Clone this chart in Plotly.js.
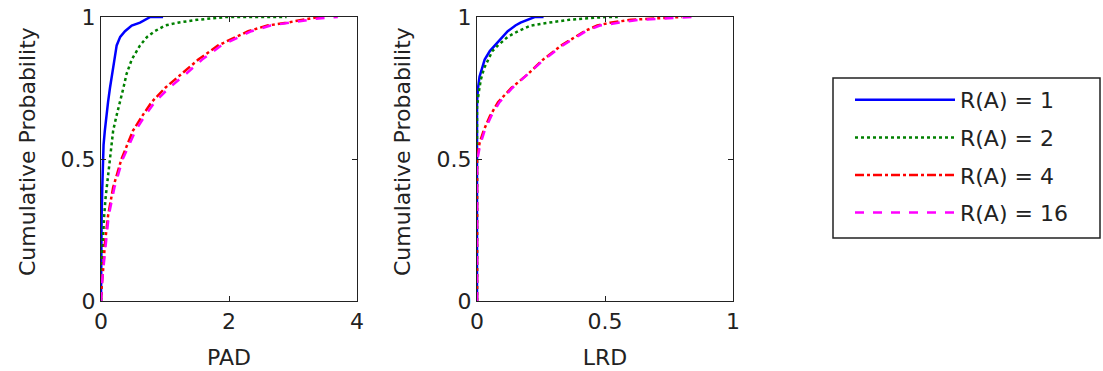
<!DOCTYPE html>
<html>
<head>
<meta charset="utf-8">
<script src="https://cdn.plot.ly/plotly-3.0.1.min.js"></script>
<style>html,body{margin:0;padding:0;background:#fff;}#chart{width:1103px;height:371px;}</style>
</head>
<body>
<div id="chart"></div>
<script>
// Legend labels
const seriesNames = ["R(A) = 1", "R(A) = 2", "R(A) = 4", "R(A) = 16"];
const yTitle = "Cumulative Probability";

// PAD (left panel) empirical CDF points
const padX1 = [0, 0, 0.005, 0.01, 0.02, 0.03, 0.04, 0.06, 0.08, 0.11, 0.14, 0.17, 0.21, 0.245, 0.30, 0.375, 0.48, 0.61, 0.77, 0.97];
const padY1 = [0, 0.1, 0.2, 0.3, 0.4, 0.5, 0.55, 0.6, 0.65, 0.7, 0.75, 0.8, 0.85, 0.9, 0.93, 0.95, 0.97, 0.98, 1.0, 1.0];
const padX2 = [0, 0, 0.01, 0.02, 0.03, 0.05, 0.07, 0.09, 0.12, 0.14, 0.19, 0.24, 0.30, 0.35, 0.40, 0.48, 0.61, 0.72, 0.84, 1.0, 1.2, 1.5, 1.96, 2.9];
const padY2 = [0, 0.05, 0.1, 0.17, 0.22, 0.3, 0.36, 0.4, 0.46, 0.5, 0.6, 0.65, 0.7, 0.75, 0.8, 0.85, 0.9, 0.93, 0.95, 0.97, 0.98, 0.99, 1.0, 1.0];
const padX4 = [0, 0, 0.01, 0.03, 0.06, 0.11, 0.19, 0.32, 0.50, 0.64, 0.79, 1.0, 1.26, 1.52, 1.83, 2.3, 2.6, 2.9, 3.4, 3.45];
const padY4 = [0, 0.03, 0.05, 0.1, 0.2, 0.3, 0.4, 0.5, 0.6, 0.65, 0.7, 0.75, 0.8, 0.85, 0.9, 0.95, 0.97, 0.98, 1.0, 1.0];
const padX16 = [0, 0, 0.01, 0.03, 0.07, 0.12, 0.21, 0.34, 0.54, 0.68, 0.84, 1.06, 1.33, 1.58, 1.88, 2.35, 2.65, 2.95, 3.4, 3.7];
const padY16 = [0, 0.03, 0.05, 0.1, 0.2, 0.3, 0.4, 0.5, 0.6, 0.65, 0.7, 0.75, 0.8, 0.85, 0.9, 0.95, 0.97, 0.98, 0.995, 1.0];

// LRD (right panel) empirical CDF points
const lrdX1 = [0, 0, 0.004, 0.01, 0.02, 0.03, 0.05, 0.07, 0.09, 0.12, 0.15, 0.17, 0.225, 0.26];
const lrdY1 = [0, 0.7, 0.75, 0.79, 0.82, 0.85, 0.88, 0.9, 0.92, 0.95, 0.97, 0.98, 1.0, 1.0];
const lrdX2 = [0, 0, 0.006, 0.015, 0.028, 0.043, 0.06, 0.082, 0.12, 0.16, 0.21, 0.28, 0.36, 0.5, 0.55];
const lrdY2 = [0, 0.68, 0.73, 0.78, 0.82, 0.85, 0.88, 0.9, 0.93, 0.95, 0.97, 0.98, 0.99, 1.0, 1.0];
const lrdX4 = [0, 0, 0.005, 0.01, 0.026, 0.05, 0.082, 0.134, 0.2, 0.258, 0.33, 0.42, 0.47, 0.52, 0.6, 0.8];
const lrdY4 = [0, 0.5, 0.53, 0.556, 0.6, 0.65, 0.7, 0.75, 0.8, 0.85, 0.9, 0.95, 0.97, 0.98, 0.99, 1.0];
const lrdX16 = [0, 0, 0.006, 0.012, 0.03, 0.055, 0.088, 0.138, 0.2, 0.262, 0.335, 0.425, 0.48, 0.55, 0.63, 0.84];
const lrdY16 = [0, 0.49, 0.52, 0.55, 0.6, 0.65, 0.7, 0.75, 0.8, 0.85, 0.9, 0.95, 0.97, 0.98, 0.99, 1.0];

const padXTicks = [0, 2, 4];
const lrdXTicks = [0, 0.5, 1];
const yTicks = [0, 0.5, 1];

const styles = [
  {color: "#0000ff", dash: "solid"},
  {color: "#008000", dash: "dot"},
  {color: "#ff0000", dash: "dashdot"},
  {color: "#ff00ff", dash: "dash"}
];
const padSets = [[padX1, padY1], [padX2, padY2], [padX4, padY4], [padX16, padY16]];
const lrdSets = [[lrdX1, lrdY1], [lrdX2, lrdY2], [lrdX4, lrdY4], [lrdX16, lrdY16]];

const traces = [];
padSets.forEach((s, i) => {
  traces.push({x: s[0], y: s[1], xaxis: "x", yaxis: "y", mode: "lines", name: seriesNames[i],
    legendgroup: "g" + i, showlegend: true, cliponaxis: true,
    line: {color: styles[i].color, dash: styles[i].dash, width: 2.5, shape: "linear"}});
});
lrdSets.forEach((s, i) => {
  traces.push({x: s[0], y: s[1], xaxis: "x2", yaxis: "y2", mode: "lines", name: seriesNames[i],
    legendgroup: "g" + i, showlegend: false, cliponaxis: true,
    line: {color: styles[i].color, dash: styles[i].dash, width: 2.5, shape: "linear"}});
});

const W = 1103, H = 371;
const font = {family: "DejaVu Sans", size: 22, color: "#222"};
const axBase = {
  showgrid: false, zeroline: false, showline: true, linecolor: "#222", linewidth: 1,
  mirror: "ticks", ticks: "inside", ticklen: 5, tickcolor: "#222", tickwidth: 1,
  tickfont: font, fixedrange: true
};
const yDom = [(H - 301) / H, (H - 17) / H];

const layout = {
  width: W, height: H,
  margin: {l: 0, r: 0, t: 0, b: 0},
  paper_bgcolor: "#fff", plot_bgcolor: "#fff",
  font: font,
  showlegend: true,
  xaxis: Object.assign({}, axBase, {domain: [101 / W, 357 / W], range: [0, 4], tickvals: padXTicks, ticktext: padXTicks.map(String),
    ticklabelstandoff: 1, title: {text: "PAD", font: font, standoff: 16}, anchor: "y"}),
  yaxis: Object.assign({}, axBase, {domain: yDom, range: [0, 1], tickvals: yTicks, ticktext: ["0", "0.5", "1"], anchor: "x"}),
  xaxis2: Object.assign({}, axBase, {domain: [477 / W, 733 / W], range: [0, 1], tickvals: lrdXTicks, ticktext: ["0", "0.5", "1"],
    ticklabelstandoff: 1, title: {text: "LRD", font: font, standoff: 16}, anchor: "y2"}),
  yaxis2: Object.assign({}, axBase, {domain: yDom, range: [0, 1], tickvals: yTicks, ticktext: ["0", "0.5", "1"], anchor: "x2"}),
  annotations: [
    {text: yTitle, xref: "paper", yref: "paper", x: 27 / W, y: (H - 152) / H, xanchor: "center", yanchor: "middle",
      textangle: -90, showarrow: false, font: font},
    {text: yTitle, xref: "paper", yref: "paper", x: 402 / W, y: (H - 152) / H, xanchor: "center", yanchor: "middle",
      textangle: -90, showarrow: false, font: font}
  ],
  legend: {
    x: 850 / W, y: (H - 79) / H, xanchor: "left", yanchor: "top",
    bgcolor: "rgba(0,0,0,0)", borderwidth: 0, font: font,
    itemwidth: 100, tracegroupgap: 6, traceorder: "grouped"
  },
  shapes: [
    {type: "rect", xref: "paper", yref: "paper", x0: 833 / W, x1: 1100 / W, y0: (H - 238) / H, y1: (H - 78) / H,
      line: {color: "#222", width: 1.5}, fillcolor: "rgba(0,0,0,0)"}
  ]
};

Plotly.newPlot("chart", traces, layout, {displayModeBar: false, staticPlot: true});
</script>
</body>
</html>
